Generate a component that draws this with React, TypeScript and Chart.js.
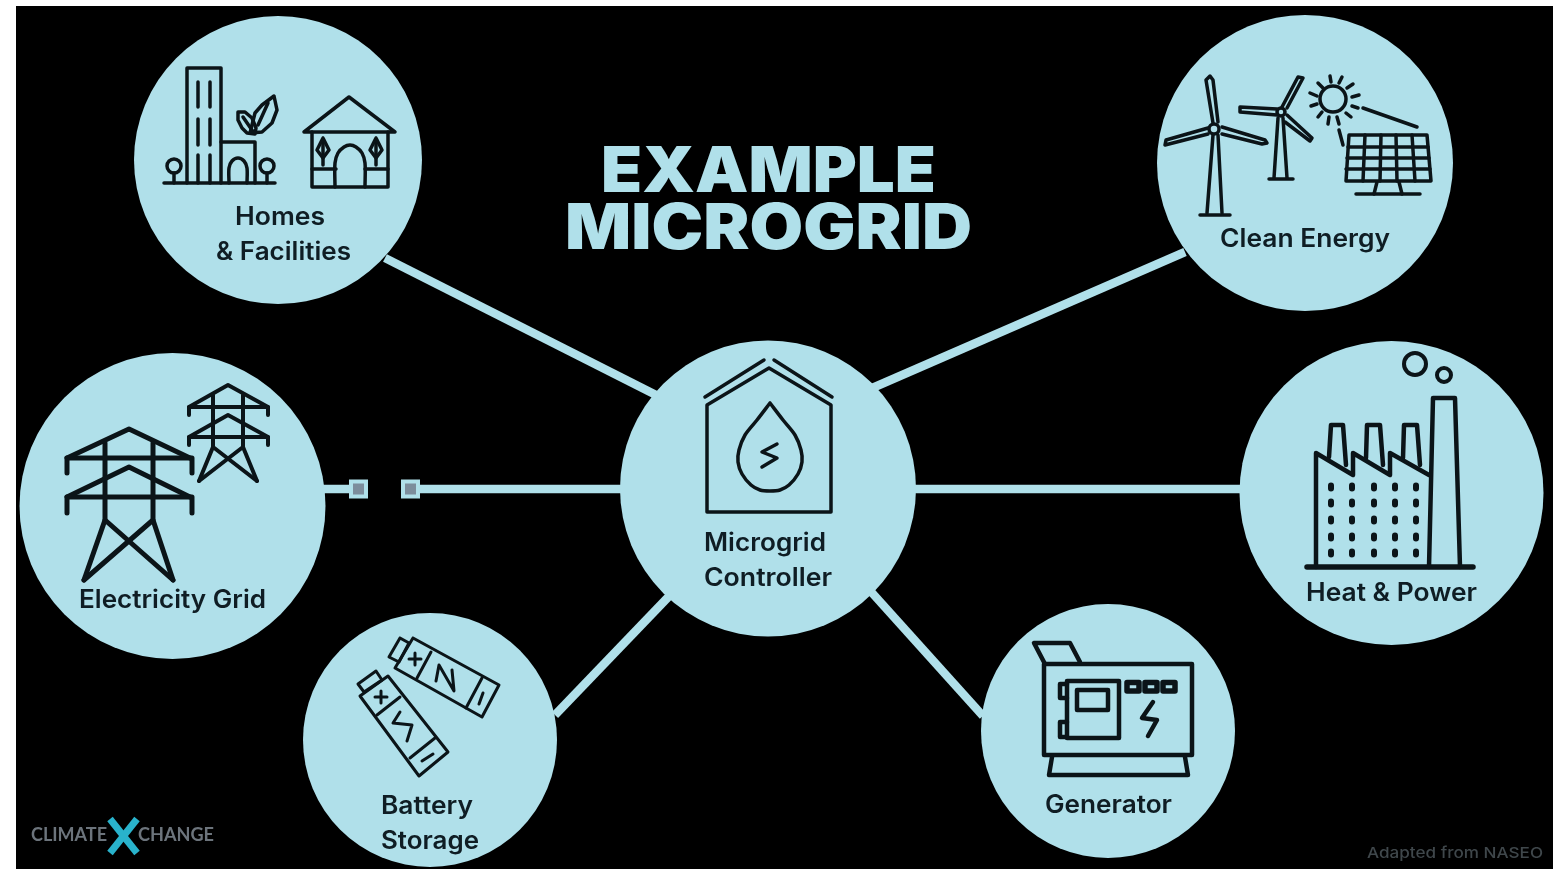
import React, { useEffect, useRef } from "react";
import { Chart, registerables } from "chart.js";

Chart.register(...registerables);

const W = 1563;
const H = 869;
const NODE = "#B0E0EA";
const INK = "#0B1418";
const TEXT = "#0F1D24";

type Poly = number[];

// Hubs of the diagram
const nodeNames = ["Homes & Facilities", "Clean Energy", "Electricity Grid", "Heat & Power", "Microgrid Controller", "Battery Storage", "Generator"];
const nodeX = [278, 1305, 172.5, 1391.5, 768, 430, 1108];
const nodeY = [160, 163, 506, 493, 488.5, 740, 731];
const nodeR = [144, 148, 153, 152, 148, 127, 127];

// Links between hubs
const links: Poly[] = [
  [385, 258, 660, 397],
  [1185, 252, 870, 389],
  [555, 715, 675, 590],
  [983, 716, 865, 585],
  [900, 489, 1250, 489],
  [320, 489, 349, 489],
  [420, 489, 630, 489],
];
const breakX = [358.5, 410.5];
const breakY = [489, 489];

// Icons, as polylines x,y,x,y...
const homesIcon: Poly[] = [
  [187, 183, 187, 68, 221, 68, 221, 183],
  [198, 82, 198, 107], [210, 82, 210, 107],
  [198, 119, 198, 145], [210, 119, 210, 145],
  [198, 155, 198, 183], [210, 155, 210, 183],
  [221, 142, 255, 142, 255, 183],
  [164, 183, 275, 183],
  [174, 173, 174, 183], [267, 173, 267, 183],
  [250, 133, 255, 113, 262, 105, 274, 96, 277, 110, 272, 123, 262, 132, 250, 133],
  [258, 125, 268, 103],
  [238, 112, 245, 112, 252, 118, 256, 128, 255, 134, 247, 133, 242, 128, 238, 120, 238, 112],
  [243, 117, 254, 133],
  [304, 132, 349, 97, 395, 132, 304, 132],
  [312, 132, 312, 187, 388, 187, 388, 132],
  [312, 169, 336, 169], [365, 169, 388, 169],
  [323, 138, 329, 150, 323, 158, 317, 150, 323, 138], [323, 140, 323, 165],
  [376, 138, 382, 150, 376, 158, 370, 150, 376, 138], [376, 140, 376, 165],
];
const homesArches: Poly[] = [
  [229, 183, 229, 168, 232, 161, 238, 158, 244, 161, 247, 168, 247, 183],
  [335, 187, 335, 163, 338, 153, 344, 147, 350, 145, 356, 147, 362, 153, 365, 163, 365, 187],
];
const homesRings = [[174, 166, 7], [267, 166, 7]];

const cleanIcon: Poly[] = [
  [1213, 135, 1207, 213], [1218, 135, 1222, 213], [1200, 215, 1230, 215],
  [1213, 123, 1206, 80, 1210, 76, 1213, 80, 1218, 122],
  [1208, 128, 1166, 140, 1165, 145, 1208, 134],
  [1222, 127, 1265, 140, 1267, 143, 1262, 144, 1222, 134],
  [1278, 118, 1274, 178], [1283, 118, 1287, 178], [1269, 179, 1293, 179],
  [1282, 107, 1298, 77, 1303, 78, 1287, 108],
  [1277, 109, 1240, 107, 1240, 112, 1277, 115],
  [1287, 115, 1312, 138, 1310, 141, 1285, 122],
  [1330, 76, 1331, 82], [1342, 77, 1339, 83], [1353, 84, 1347, 88], [1359, 95, 1352, 97],
  [1358, 108, 1352, 106], [1351, 117, 1346, 113], [1339, 124, 1337, 117], [1328, 124, 1329, 117],
  [1318, 117, 1322, 112], [1311, 106, 1317, 104], [1310, 93, 1317, 96], [1318, 83, 1323, 88],
  [1363, 108, 1417, 127], [1339, 130, 1343, 145],
  [1349, 135, 1427, 135, 1431, 181, 1346, 181, 1349, 135],
  [1348, 147, 1428, 147], [1347, 158, 1429, 158], [1346, 169, 1430, 169],
  [1365, 135, 1363, 181], [1381, 135, 1380, 181], [1396, 135, 1397, 181], [1412, 135, 1415, 181],
  [1377, 182, 1374, 194], [1399, 182, 1402, 194], [1356, 194, 1420, 194],
];
const cleanRings = [[1214, 129, 5], [1281, 112, 4], [1333, 99, 13]];

const gridBigIcon: Poly[] = [
  [67, 473, 67, 458, 192, 458, 192, 473],
  [67, 458, 129, 429, 190, 458],
  [67, 513, 67, 497, 192, 497, 192, 513],
  [67, 497, 129, 467, 190, 497],
  [105, 443, 105, 520, 173, 580],
  [153, 443, 153, 520, 84, 580],
  [105, 520, 84, 580], [153, 520, 173, 580],
];
const gridSmallIcon: Poly[] = [
  [189, 415, 189, 407, 268, 407, 268, 415],
  [189, 407, 228, 385, 268, 407],
  [189, 445, 189, 437, 268, 437, 268, 445],
  [189, 437, 228, 415, 268, 437],
  [213, 395, 213, 447, 257, 481],
  [243, 395, 243, 447, 199, 481],
  [213, 447, 199, 481], [243, 447, 257, 481],
];

const heatIcon: Poly[] = [
  [1429, 567, 1433, 398, 1455, 398, 1460, 567],
  [1316, 567, 1316, 453, 1353, 475, 1353, 453, 1390, 475, 1390, 453, 1429, 475],
  [1329, 457, 1331, 425, 1343, 425, 1346, 465],
  [1366, 458, 1367, 425, 1380, 425, 1383, 465],
  [1403, 458, 1404, 425, 1417, 425, 1420, 465],
];
const heatGround: Poly[] = [[1307, 567, 1473, 567]];
const heatRings = [[1415, 364, 11], [1444, 375, 7]];
const windowColumns = [1331, 1352, 1374, 1395, 1416];
const windowRows = [487, 503, 520, 537, 553];

const controllerIcon: Poly[] = [
  [707, 512, 831, 512, 831, 405, 769, 368, 707, 405, 707, 512],
  [705, 397, 764, 360], [774, 360, 832, 397],
  [777, 444, 762, 452, 777, 458, 762, 467],
];
const controllerDrop: Poly[] = [
  [770, 403, 757, 420, 745, 435, 739, 450, 738, 462, 742, 474, 751, 485, 760, 490, 770, 491, 780, 490, 789, 485, 798, 474, 802, 462, 801, 450, 795, 435, 783, 420, 770, 403],
];

const batteryIcon: Poly[] = [
  [413, 638, 499, 685, 482, 717, 395, 668, 413, 638],
  [400, 638, 409, 643, 399, 662, 389, 657, 400, 638],
  [431, 652, 417, 678], [482, 678, 466, 708],
  [409, 659, 421, 659], [415, 653, 415, 665],
  [483, 693, 479, 704],
  [436, 681, 439, 665, 454, 691, 452, 670],
  [360, 696, 388, 676, 448, 752, 419, 776, 360, 696],
  [358, 684, 376, 671, 382, 680, 364, 692, 358, 684],
  [400, 697, 377, 715], [435, 738, 410, 758],
  [375, 697, 387, 697], [381, 691, 381, 703],
  [422, 761, 433, 754],
  [400, 712, 393, 723, 412, 725, 407, 741],
];

const generatorIcon: Poly[] = [
  [1044, 664, 1192, 664, 1192, 755, 1044, 755, 1044, 664],
  [1052, 757, 1049, 775, 1188, 775, 1185, 757],
  [1045, 664, 1034, 643, 1070, 643, 1080, 662],
  [1067, 681, 1119, 681, 1119, 738, 1067, 738, 1067, 681],
  [1077, 690, 1108, 690, 1108, 710, 1077, 710, 1077, 690],
  [1067, 684, 1060, 684, 1060, 698, 1067, 698],
  [1067, 722, 1060, 722, 1060, 737, 1067, 737],
  [1153, 702, 1142, 718, 1157, 720, 1148, 736],
];
const generatorButtons: Poly[] = [
  [1127, 682.5, 1139, 682.5, 1139, 691, 1127, 691, 1127, 682.5],
  [1145, 682.5, 1157, 682.5, 1157, 691, 1145, 691, 1145, 682.5],
  [1163, 682.5, 1175, 682.5, 1175, 691, 1163, 691, 1163, 682.5],
];

const logoMark: Poly[] = [[110, 819, 137, 853], [137, 819, 110, 853]];

// Text
const labelTexts = ["Homes", "& Facilities", "Clean Energy", "Electricity Grid", "Microgrid", "Controller", "Heat & Power", "Battery", "Storage", "Generator"];
const labelX = [280, 283.5, 1305, 172.5, 765, 768, 1391.5, 427, 430, 1108.5];
const labelY = [217, 252, 239, 600, 543, 578, 593, 806, 841, 805];
const labelW = [90, 135, 170, 187, 122, 128, 171, 92, 98, 127];

const titleTexts = ["EXAMPLE", "MICROGRID"];
const titleX = [768.5, 768.5];
const titleY = [173, 230];
const titleW = [335, 407];

const noteTexts = ["CLIMATE", "CHANGE", "Adapted from NASEO"];
const noteX = [69, 176, 1455];
const noteY = [835, 835, 853];
const noteW = [76, 76, 176];

const toPoints = (p: Poly) => {
  const out: { x: number; y: number }[] = [];
  for (let i = 0; i < p.length; i += 2) out.push({ x: p[i], y: p[i + 1] });
  return out;
};

const strokes = (polys: Poly[], color: string, width: number, order: number, cap = "round", tension = 0) =>
  polys.map((p) => ({
    type: "scatter",
    data: toPoints(p),
    showLine: true,
    fill: false,
    tension,
    borderColor: color,
    borderWidth: width,
    borderCapStyle: cap,
    borderJoinStyle: "round",
    pointRadius: 0,
    pointHoverRadius: 0,
    order,
    clip: false,
  }));

const rings = (items: number[][], width: number) => ({
  type: "bubble",
  data: items.map(([x, y, r]) => ({ x, y, r })),
  backgroundColor: "rgba(0,0,0,0)",
  borderColor: INK,
  borderWidth: width,
  order: 0,
  clip: false,
});

const windowDashes: Poly[] = windowColumns.flatMap((x) => windowRows.map((y) => [x, y - 1.5, x, y + 1.5]));

const fitText = (ctx: CanvasRenderingContext2D, text: string, px: number, py: number, width: number) => {
  const m = ctx.measureText(text).width;
  ctx.save();
  ctx.translate(px, py);
  ctx.scale(width / m, 1);
  ctx.fillText(text, 0, 0);
  ctx.restore();
};

const diagramPlugin = {
  id: "diagram",
  beforeDraw(chart: any) {
    const { ctx, scales } = chart;
    const l = scales.x.getPixelForValue(16);
    const r = scales.x.getPixelForValue(1553);
    const t = scales.y.getPixelForValue(6);
    const b = scales.y.getPixelForValue(869);
    ctx.save();
    ctx.fillStyle = "#000000";
    ctx.fillRect(l, t, r - l, b - t);
    ctx.restore();
  },
  afterDraw(chart: any) {
    const { ctx, scales } = chart;
    const px = (v: number) => scales.x.getPixelForValue(v);
    const py = (v: number) => scales.y.getPixelForValue(v);
    ctx.save();
    ctx.textAlign = "center";
    ctx.textBaseline = "middle";
    ctx.font = '600 25px "Inter", "Noto Sans", sans-serif';
    ctx.fillStyle = TEXT;
    labelTexts.forEach((s, i) => fitText(ctx, s, px(labelX[i]), py(labelY[i]), labelW[i]));
    ctx.font = '900 63px "Inter", "Noto Sans", sans-serif';
    ctx.fillStyle = NODE;
    titleTexts.forEach((s, i) => fitText(ctx, s, px(titleX[i]), py(titleY[i]), titleW[i]));
    ctx.font = '700 18px "Lato", "Noto Sans", sans-serif';
    ctx.fillStyle = "#6C747C";
    fitText(ctx, noteTexts[0], px(noteX[0]), py(noteY[0]), noteW[0]);
    fitText(ctx, noteTexts[1], px(noteX[1]), py(noteY[1]), noteW[1]);
    ctx.font = '500 15px "Inter", "Noto Sans", sans-serif';
    ctx.fillStyle = "#3F474B";
    fitText(ctx, noteTexts[2], px(noteX[2]), py(noteY[2]), noteW[2]);
    ctx.restore();
  },
};

export default function App() {
  const ref = useRef<HTMLCanvasElement | null>(null);
  useEffect(() => {
    if (!ref.current) return;
    const chart = new Chart(ref.current, {
      type: "scatter",
      data: {
        labels: nodeNames,
        datasets: [
          ...strokes(homesIcon, INK, 3.5, 0),
          ...strokes(homesArches, INK, 3.5, 0, "round", 0.3),
          rings(homesRings, 3.5),
          ...strokes(cleanIcon, INK, 3.5, 0),
          rings(cleanRings, 3.5),
          ...strokes(gridBigIcon, INK, 5, 0),
          ...strokes(gridSmallIcon, INK, 4, 0),
          ...strokes(heatIcon, INK, 4.5, 0),
          ...strokes(heatGround, INK, 5.5, 0),
          rings(heatRings, 4),
          ...strokes(windowDashes, INK, 6, 0),
          ...strokes(controllerIcon, INK, 3.5, 0),
          ...strokes(controllerDrop, INK, 3.5, 0, "round", 0.3),
          ...strokes(batteryIcon, INK, 3, 0),
          ...strokes(generatorIcon, INK, 4.5, 0),
          ...strokes(generatorButtons, INK, 5.5, 0),
          ...strokes(logoMark, "#29B3CC", 7, 0, "butt"),
          {
            type: "bubble",
            data: nodeX.map((x, i) => ({ x, y: nodeY[i], r: nodeR[i] })),
            backgroundColor: NODE,
            borderWidth: 0,
            order: 1,
            clip: false,
          },
          {
            type: "scatter",
            data: breakX.map((x, i) => ({ x, y: breakY[i] })),
            pointStyle: "rect",
            pointRadius: 10.6,
            pointBackgroundColor: "#7C8D9C",
            pointBorderColor: NODE,
            pointBorderWidth: 4,
            showLine: false,
            order: 1,
            clip: false,
          },
          ...strokes(links, NODE, 8.5, 2, "butt"),
        ] as any,
      },
      options: {
        animation: false,
        responsive: false,
        events: [],
        layout: { padding: 0, autoPadding: false },
        plugins: { legend: { display: false }, tooltip: { enabled: false }, title: { display: false } },
        scales: {
          x: { type: "linear", display: false, min: 0, max: W },
          y: { type: "linear", display: false, min: 0, max: H, reverse: true },
        },
      } as any,
      plugins: [diagramPlugin],
    });
    return () => chart.destroy();
  }, []);
  return (
    <div>
      <div style={{ position: "fixed", left: 16, top: 6, width: 1537, height: 863, background: "#000" }} />
      <canvas
        ref={ref}
        width={W}
        height={H}
        style={{ position: "fixed", left: 0, top: 0, width: W, height: H, filter: "blur(0.6px)" }}
      />
    </div>
  );
}
